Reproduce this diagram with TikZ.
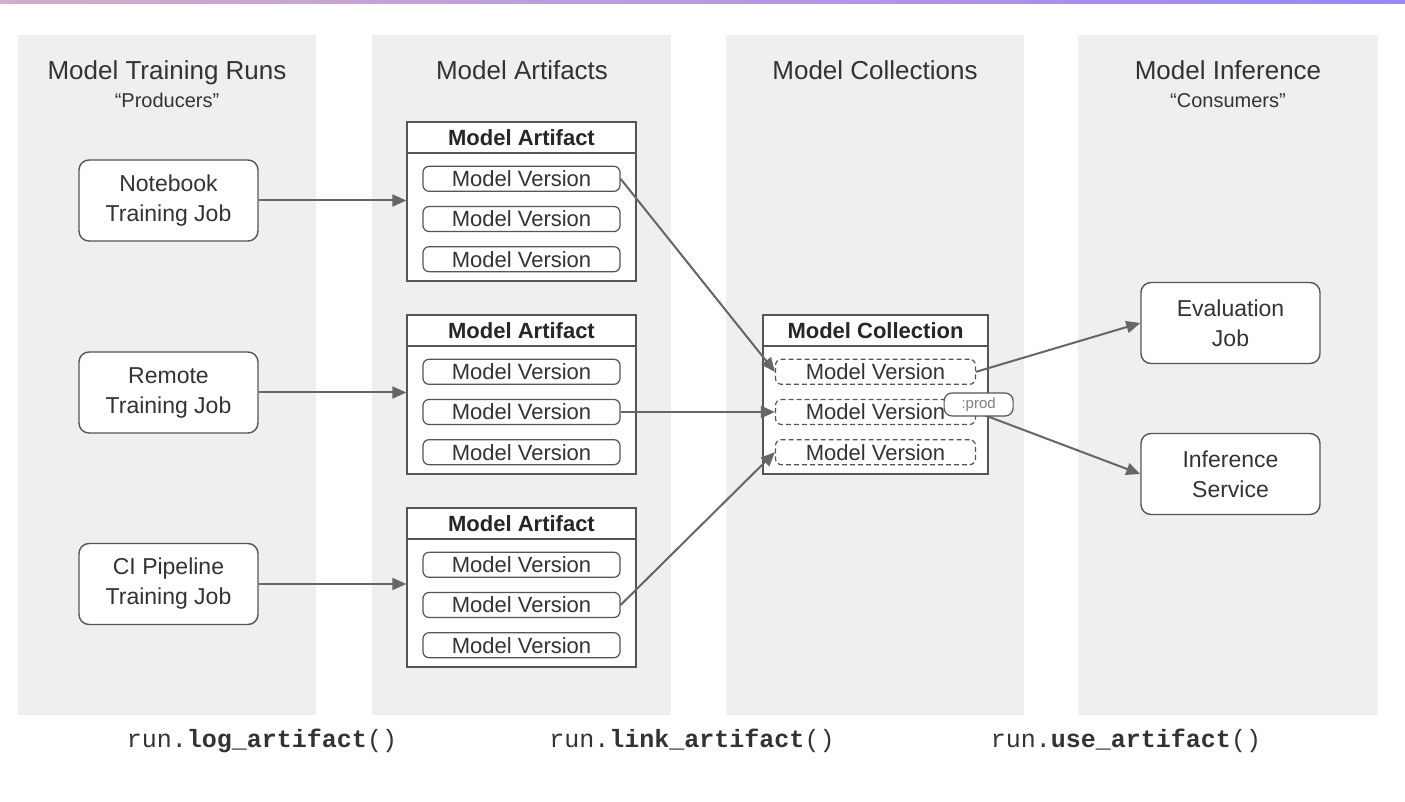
\documentclass[tikz,border=0pt]{standalone}
\usepackage{fontspec}
\setmainfont{Liberation Sans}
\setmonofont{Liberation Mono}
\usepackage{xcolor}
\definecolor{lanegray}{HTML}{EFEFEF}
\definecolor{edgegray}{HTML}{555555}
\definecolor{arrowgray}{HTML}{666666}
\definecolor{inkgray}{HTML}{333333}
\definecolor{barpink}{HTML}{D4ADC8}
\definecolor{barviolet}{HTML}{9B86F6}
\usepackage{tikz}
\usetikzlibrary{
  arrows.meta,
  positioning,
  calc
}

\begin{document}
\begin{tikzpicture}[
  x=0.5pt, y=-0.5pt,
  lane/.style={fill=lanegray, draw=none},
  lanetitle/.style={font=\fontsize{13}{15}\selectfont, text=inkgray, text height=9.5pt, text depth=2.5pt},
  lanesub/.style={font=\fontsize{10}{12}\selectfont, text=inkgray, text height=7.5pt, text depth=2pt},
  jobbox/.style={rectangle, rounded corners=5pt, draw=edgegray, fill=white, line width=0.7pt, minimum width=89.5pt, minimum height=40.5pt, align=center, font=\fontsize{11.5}{15}\selectfont, text=inkgray},
  artbody/.style={rectangle, draw=edgegray, fill=white, line width=0.7pt, minimum width=114.5pt, minimum height=79.5pt},
  arthead/.style={rectangle, draw=edgegray, line width=0.7pt, minimum width=114.5pt, minimum height=15.5pt, inner sep=0pt, font=\bfseries\fontsize{11}{13}\selectfont, text=black!85},
  artversion/.style={rectangle, rounded corners=3pt, draw=edgegray, line width=0.6pt, minimum width=98.5pt, minimum height=12.5pt, inner sep=0pt, font=\fontsize{11}{13}\selectfont, text=inkgray},
  collversion/.style={artversion, dashed, dash pattern=on 2.5pt off 1.5pt},
  tagbox/.style={rectangle, rounded corners=4pt, draw=edgegray, fill=white, line width=0.6pt, minimum width=34.5pt, minimum height=11.5pt, inner sep=0pt, font=\fontsize{7.5}{9}\selectfont, text=gray},
  arr/.style={-{Triangle[length=7pt, width=6pt]}, line width=1pt, arrowgray},
  codelabel/.style={font=\ttfamily\fontsize{12.5}{14}\selectfont, text=inkgray},
]
\useasboundingbox (0,0) rectangle (1405,802);
\shade[left color=barpink, right color=barviolet] (0,0) rectangle (1405,4);

% Lanes
\fill[lane] (18,35) rectangle (316,715);
\fill[lane] (372,35) rectangle (671,715);
\fill[lane] (726,35) rectangle (1024,715);
\fill[lane] (1078,35) rectangle (1378,715);

\node[lanetitle] (t1) at (167,73) {Model Training Runs};
\node[lanesub] (s1) at (167,102) {``Producers''};
\node[lanetitle] (t2) at (522,73) {Model Artifacts};
\node[lanetitle] (t3) at (875,73) {Model Collections};
\node[lanetitle] (t4) at (1228,73) {Model Inference};
\node[lanesub] (s4) at (1228,102) {``Consumers''};

% Producers
\node[jobbox] (nb) at (168.5,200.5) {Notebook\\Training Job};
\node[jobbox] (rem) at (168.5,392.5) {Remote\\Training Job};
\node[jobbox] (ci) at (168.5,584) {CI Pipeline\\Training Job};

% Artifacts
\node[artbody] (a1) at (521.5,201.5) {};
\node[arthead, anchor=north] (a1h) at (a1.north) {Model Artifact};
\node[artversion, below=6pt of a1h] (a1v1) {Model Version};
\node[artversion, below=7pt of a1v1] (a1v2) {Model Version};
\node[artversion, below=7pt of a1v2] (a1v3) {Model Version};

\node[artbody] (a2) at (521.5,394.5) {};
\node[arthead, anchor=north] (a2h) at (a2.north) {Model Artifact};
\node[artversion, below=6pt of a2h] (a2v1) {Model Version};
\node[artversion, below=7pt of a2v1] (a2v2) {Model Version};
\node[artversion, below=7pt of a2v2] (a2v3) {Model Version};

\node[artbody] (a3) at (521.5,587.5) {};
\node[arthead, anchor=north] (a3h) at (a3.north) {Model Artifact};
\node[artversion, below=6pt of a3h] (a3v1) {Model Version};
\node[artversion, below=7pt of a3v1] (a3v2) {Model Version};
\node[artversion, below=7pt of a3v2] (a3v3) {Model Version};

% Collection
\node[artbody, minimum width=112.5pt] (col) at (875.5,394.5) {};
\node[arthead, anchor=north, minimum width=112.5pt] (colh) at (col.north) {Model Collection};
\node[collversion, minimum width=100pt, below=6pt of colh] (c1) {Model Version};
\node[collversion, minimum width=100pt, below=7pt of c1] (c2) {Model Version};
\node[collversion, minimum width=100pt, below=7pt of c2] (c3) {Model Version};

% Consumers
\node[jobbox] (eval) at (1230.5,323) {Evaluation\\Job};
\node[jobbox] (infer) at (1230.5,474) {Inference\\Service};

\draw[arr] (nb.east) -- (nb.east -| a1.west);
\draw[arr] (rem.east) -- (rem.east -| a2.west);
\draw[arr] (ci.east) -- (ci.east -| a3.west);

\draw[arr] (a1v1.east) -- (c1.west);
\draw[arr] (a2v2.east) -- (c2.west);
\draw[arr] (a3v2.east) -- (c3.west);

\draw[arr] (c1.east) -- (eval.west);
\draw[arr] (c2.east) -- (infer.west);

\node[tagbox] (prod) at ($(c2.east)+(2.5,-7.5)$) {:prod};

% API calls
\node[codelabel] (log) at (262,741) {run.\textbf{log\_artifact}()};
\node[codelabel] (link) at (692,741) {run.\textbf{link\_artifact}()};
\node[codelabel] (use) at (1126,741) {run.\textbf{use\_artifact}()};

\end{tikzpicture}
\end{document}
